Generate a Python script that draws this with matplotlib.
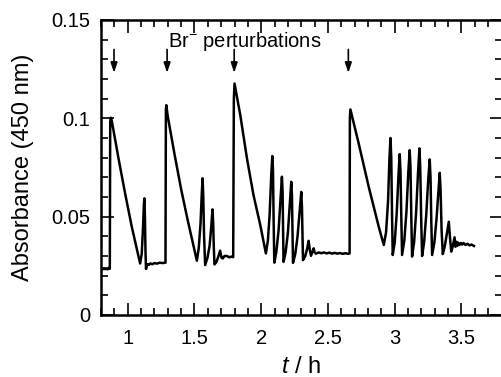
import matplotlib
matplotlib.use("Agg")
import matplotlib.pyplot as plt
from matplotlib.ticker import MultipleLocator

plt.rcParams['font.family'] = ['Liberation Sans', 'DejaVu Sans']
plt.rcParams['mathtext.fontset'] = 'custom'
plt.rcParams['mathtext.rm'] = 'Liberation Sans'
plt.rcParams['mathtext.it'] = 'Liberation Sans:italic'

# time (h) and absorbance at 450 nm
t = [0.800, 0.812, 0.822, 0.830, 0.840, 0.850, 0.858, 0.866, 0.869, 0.873,
     0.880, 0.930, 0.980, 1.030, 1.070, 1.093, 1.105, 1.115, 1.121, 1.125,
     1.129, 1.133, 1.137, 1.143, 1.150, 1.160, 1.170, 1.185, 1.200, 1.220,
     1.240, 1.260, 1.283, 1.286, 1.289, 1.300, 1.350, 1.400, 1.450, 1.490,
     1.518, 1.532, 1.545, 1.555, 1.561, 1.566, 1.572, 1.580, 1.597, 1.613,
     1.626, 1.635, 1.640, 1.645, 1.650, 1.665, 1.680, 1.692, 1.703, 1.713,
     1.725, 1.743, 1.760, 1.775, 1.790, 1.795, 1.800, 1.843, 1.893, 1.942,
     1.993, 2.035, 2.050, 2.063, 2.075, 2.083, 2.088, 2.093, 2.098, 2.113,
     2.130, 2.145, 2.155, 2.160, 2.164, 2.167, 2.183, 2.200, 2.215, 2.225,
     2.230, 2.234, 2.238, 2.255, 2.272, 2.288, 2.300, 2.305, 2.309, 2.313,
     2.330, 2.345, 2.355, 2.364, 2.373, 2.385, 2.393, 2.400, 2.410, 2.430,
     2.450, 2.470, 2.490, 2.510, 2.530, 2.550, 2.570, 2.590, 2.610, 2.630,
     2.650, 2.662, 2.664, 2.668, 2.730, 2.805, 2.880, 2.918, 2.935, 2.950,
     2.960, 2.968, 2.974, 2.980, 2.985, 3.000, 3.015, 3.028, 3.037, 3.043,
     3.049, 3.055, 3.072, 3.088, 3.102, 3.112, 3.118, 3.124, 3.130, 3.145,
     3.160, 3.175, 3.185, 3.191, 3.198, 3.205, 3.220, 3.236, 3.251, 3.262,
     3.268, 3.274, 3.280, 3.297, 3.313, 3.327, 3.337, 3.343, 3.351, 3.360,
     3.375, 3.392, 3.405, 3.412, 3.423, 3.435, 3.448, 3.455, 3.462, 3.468,
     3.475, 3.485, 3.495, 3.505, 3.515, 3.530, 3.545, 3.560, 3.575, 3.593]
absorb = [0.0236, 0.0232, 0.0238, 0.0233, 0.0237, 0.0232, 0.0240, 0.0235, 0.0980, 0.1003,
          0.0990, 0.0800, 0.0620, 0.0450, 0.0330, 0.0262, 0.0310, 0.0450, 0.0560, 0.0593,
          0.0500, 0.0330, 0.0234, 0.0252, 0.0258, 0.0255, 0.0262, 0.0258, 0.0264, 0.0261,
          0.0266, 0.0264, 0.0266, 0.1040, 0.1067, 0.1010, 0.0820, 0.0640, 0.0480, 0.0360,
          0.0276, 0.0340, 0.0460, 0.0620, 0.0695, 0.0600, 0.0400, 0.0254, 0.0290, 0.0350,
          0.0450, 0.0537, 0.0470, 0.0340, 0.0257, 0.0270, 0.0300, 0.0327, 0.0290, 0.0288,
          0.0300, 0.0300, 0.0293, 0.0297, 0.0294, 0.1100, 0.1177, 0.1017, 0.0797, 0.0610,
          0.0457, 0.0313, 0.0380, 0.0510, 0.0710, 0.0808, 0.0740, 0.0480, 0.0266, 0.0320,
          0.0430, 0.0590, 0.0703, 0.0630, 0.0430, 0.0270, 0.0320, 0.0420, 0.0570, 0.0677,
          0.0610, 0.0430, 0.0265, 0.0310, 0.0400, 0.0530, 0.0626, 0.0550, 0.0400, 0.0279,
          0.0300, 0.0340, 0.0377, 0.0330, 0.0301, 0.0325, 0.0339, 0.0318, 0.0312, 0.0318,
          0.0314, 0.0318, 0.0313, 0.0317, 0.0312, 0.0316, 0.0312, 0.0315, 0.0311, 0.0314,
          0.0311, 0.0313, 0.1000, 0.1045, 0.0872, 0.0652, 0.0449, 0.0356, 0.0420, 0.0580,
          0.0790, 0.0900, 0.0800, 0.0500, 0.0305, 0.0370, 0.0520, 0.0710, 0.0818, 0.0730,
          0.0500, 0.0305, 0.0380, 0.0530, 0.0730, 0.0838, 0.0750, 0.0500, 0.0297, 0.0370,
          0.0520, 0.0730, 0.0847, 0.0750, 0.0490, 0.0300, 0.0370, 0.0510, 0.0690, 0.0791,
          0.0700, 0.0470, 0.0305, 0.0370, 0.0490, 0.0630, 0.0723, 0.0640, 0.0430, 0.0310,
          0.0350, 0.0420, 0.0474, 0.0410, 0.0322, 0.0350, 0.0395, 0.0347, 0.0372, 0.0352,
          0.0368, 0.0356, 0.0366, 0.0358, 0.0366, 0.0356, 0.0362, 0.0354, 0.0358, 0.0351]

# times of the Br- additions (arrows)
perturb_t = [0.8975, 1.295, 1.7975, 2.6525]

fig = plt.figure(figsize=(5.01, 3.77), dpi=100)
ax = fig.add_axes([0.2016, 0.1645, 0.7995, 0.7825])

ax.plot(t, absorb, color='black', lw=1.8, solid_joinstyle='round')

for x in perturb_t:
    ax.annotate('', xy=(x, 0.1231), xytext=(x, 0.1350),
                arrowprops=dict(arrowstyle='-|>,head_length=0.6,head_width=0.2',
                                color='black', lw=1.2, shrinkA=0, shrinkB=0))

ax.text(1.3025, 0.1362, r'Br$^{-}$ perturbations', fontsize=14.5, va='baseline')

ax.set_xlim(0.8, 3.8)
ax.set_ylim(0, 0.15)
ax.xaxis.set_major_locator(MultipleLocator(0.5))
ax.xaxis.set_minor_locator(MultipleLocator(0.1))
ax.yaxis.set_major_locator(MultipleLocator(0.05))
ax.yaxis.set_minor_locator(MultipleLocator(0.01))
ax.set_xticks([1, 1.5, 2, 2.5, 3, 3.5])
ax.set_xticklabels(['1', '1.5', '2', '2.5', '3', '3.5'])
ax.set_yticks([0, 0.05, 0.1, 0.15])
ax.set_yticklabels(['0', '0.05', '0.1', '0.15'])

ax.tick_params(which='both', direction='in', top=True, right=True, width=1.2,
               labelsize=14.5)
ax.tick_params(axis='x', pad=10)
ax.tick_params(axis='y', pad=8)
ax.tick_params(which='major', length=9)
ax.tick_params(which='minor', length=5)
for s in ax.spines.values():
    s.set_linewidth(1.8)

ax.set_xlabel(r'$t$ / h', fontsize=17, labelpad=6)
ax.set_ylabel('Absorbance (450 nm)', fontsize=17, labelpad=12)

fig.savefig('out.png', dpi=100)
